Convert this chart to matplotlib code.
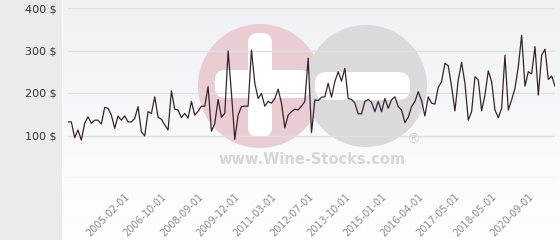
import matplotlib
matplotlib.use("Agg")
import matplotlib.pyplot as plt
import numpy as np
from matplotlib.patches import Rectangle, Circle, FancyBboxPatch

prices = [132,132,95,113,89,129,144,129,136,136,127,166,164,148,117,146,136,146,132,132,
          140,168,109,99,156,152,191,143,138,125,113,205,162,160,142,152,141,180,148,157,
          169,169,215,110,128,185,143,152,299,200,91,148,168,169,169,301,223,187,199,169,
          180,176,187,209,176,118,148,156,162,160,169,180,
          282,107,184,182,190,191,223,190,227,250,228,258,187,185,176,151,151,180,185,178,
          156,180,156,187,164,184,191,168,160,130,143,168,180,203,182,146,191,176,174,213,
          227,270,264,215,158,231,272,223,136,156,238,231,158,195,252,227,160,142,164,289,
          160,184,211,262,336,216,250,245,309,195,289,303,232,240,216]
tick_labels = ["2005-02-01","2006-10-01","2008-09-01","2009-12-01","2011-03-01","2012-07-01",
               "2013-10-01","2015-01-01","2016-04-01","2017-05-01","2018-05-01","2020-09-01"]
tick_first = 17
tick_step = 11
y_ticks = [0, 100, 200, 300, 400]
y_labels = ["", "100 $", "200 $", "300 $", "400 $"]

W, H = 560, 240
fig = plt.figure(figsize=(W/100, H/100), dpi=100)
fig.patch.set_facecolor("white")

# left gray panel
panel = fig.add_axes([0, 0, 62/W, 1], zorder=-5)
panel.set_facecolor("#e8ecef")
panel.set_xticks([]); panel.set_yticks([])
for s in panel.spines.values():
    s.set_visible(False)

# background gradient + watermark axes (pixel coordinates)
bg = fig.add_axes([63/W, 0, (W-63)/W, 1], zorder=-4)
bg.set_xlim(63, W)
bg.set_ylim(H, 0)
bg.axis("off")
grad = np.linspace(0, 1, 100).reshape(-1, 1)
top = np.array([0.937, 0.945, 0.962])
bot = np.array([1.0, 1.0, 1.0])
img = top[None, None, :] * (1 - grad[:, :, None]) + bot[None, None, :] * grad[:, :, None]
bg.imshow(img, extent=(63, W, H, 0), aspect="auto", zorder=0)

pink = "#eacdd3"
grey = "#dadadd"
bg.add_patch(Circle((260, 86), 62, facecolor=pink, edgecolor="none", zorder=1))
bg.add_patch(Circle((366, 86), 61, facecolor=grey, edgecolor="none", zorder=2))
# white cross in pink circle
bg.add_patch(FancyBboxPatch((248, 33), 24, 104, boxstyle="round,pad=0,rounding_size=10",
                            facecolor="white", edgecolor="none", zorder=3))
bg.add_patch(FancyBboxPatch((215, 70), 95, 28, boxstyle="round,pad=0,rounding_size=10",
                            facecolor="white", edgecolor="none", zorder=3))
# white bar in grey circle
bg.add_patch(FancyBboxPatch((315, 72), 95, 28, boxstyle="round,pad=0,rounding_size=12",
                            facecolor="white", edgecolor="none", zorder=3))
bg.text(312, 160, "www.Wine-Stocks.com", ha="center", va="center", fontsize=10.5,
        fontweight="bold", color="#d6d6d6", zorder=3)
bg.text(413, 140, "®", ha="center", va="center", fontsize=10, color="#d2d2d2", zorder=3)

# main axes: x 68..555 px, y 8 (400) .. 178 (0)
ax = fig.add_axes([68/W, 1 - 178/H, (555-68)/W, (178-8)/H], zorder=1)
ax.set_facecolor("none")
x = np.arange(len(prices))
ax.plot(x, prices, color="#3b2230", lw=0.9, zorder=3)
ax.set_xlim(0, len(prices) - 1)
ax.set_ylim(0, 400)
ax.set_yticks(y_ticks)
ax.set_yticklabels(y_labels)
ax.grid(axis="y", color="#dcdfe3", lw=1)
ax.set_axisbelow(True)
ticks = [tick_first + i*tick_step for i in range(len(tick_labels))]
ax.set_xticks(ticks)
ax.set_xticklabels(tick_labels, rotation=45, ha="right", rotation_mode="anchor")
for s in ax.spines.values():
    s.set_visible(False)
ax.tick_params(axis="y", length=0, pad=8, labelsize=8, labelcolor="#333333")
ax.tick_params(axis="x", length=0, pad=10, labelsize=7, labelcolor="#8a8a8a")

fig.savefig("out.png", dpi=100)
